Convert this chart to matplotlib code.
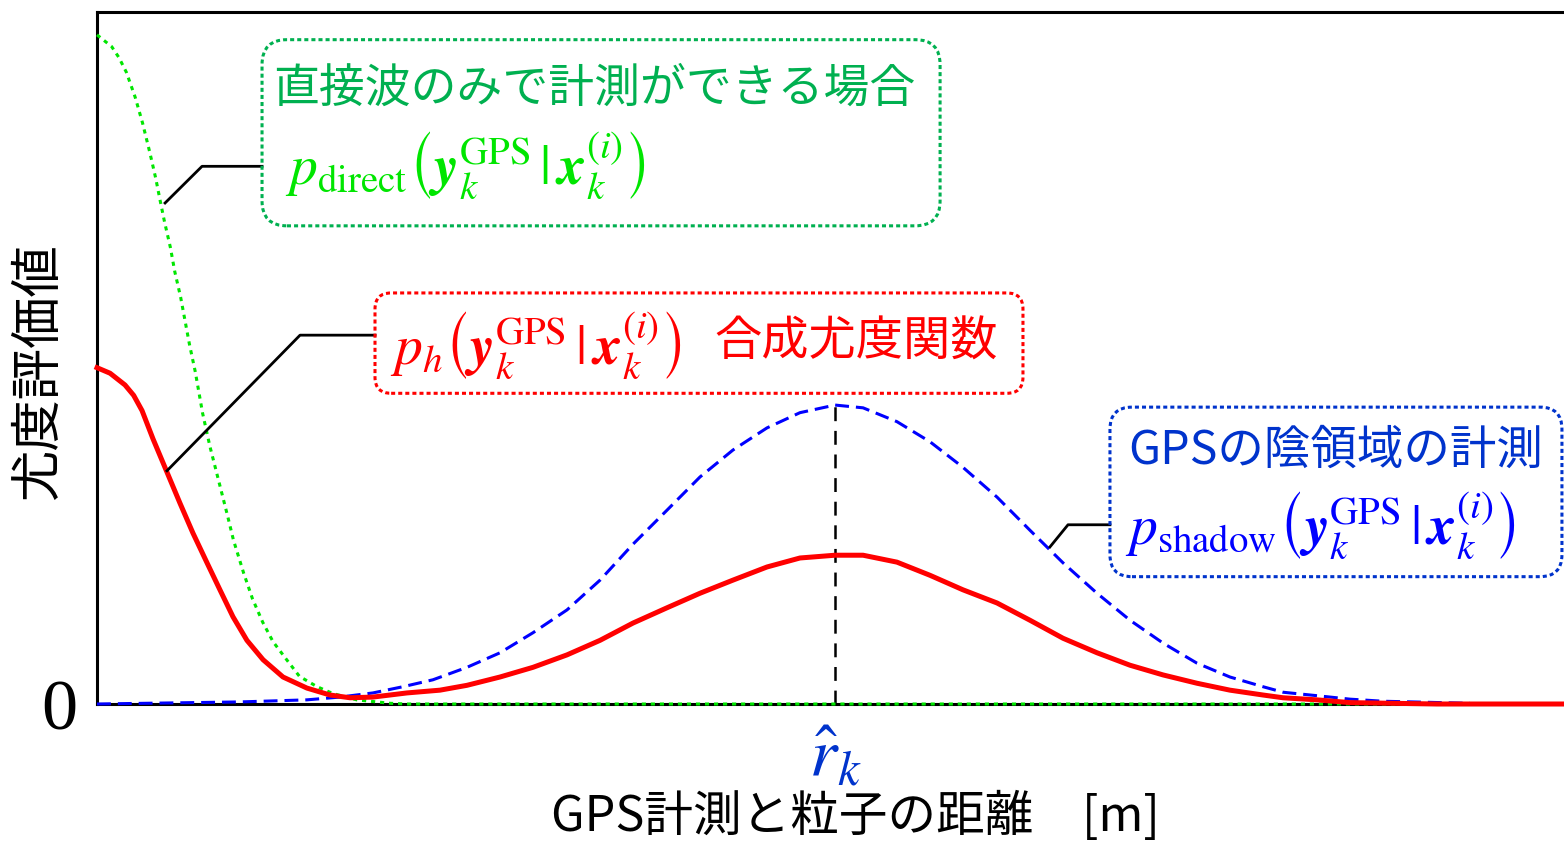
import numpy as np
import matplotlib.pyplot as plt
from matplotlib.patches import FancyBboxPatch

plt.rcParams['font.family'] = ['Noto Sans CJK JP', 'DejaVu Sans']
plt.rcParams['mathtext.fontset'] = 'stix'
plt.rcParams['lines.scale_dashes'] = False

# distance axis in arbitrary units (0..10), likelihood values normalised to the frame height
red_x = [0.0, 0.089, 0.191, 0.250, 0.307, 0.382, 0.477, 0.566, 0.654, 0.750, 0.838, 0.927,
         1.022, 1.132, 1.268, 1.431, 1.588, 1.725, 1.881, 2.113, 2.338, 2.522, 2.747, 2.972,
         3.204, 3.429, 3.654, 3.885, 4.110, 4.335, 4.567, 4.792, 5.031, 5.222, 5.453, 5.678,
         5.903, 6.135, 6.360, 6.585, 6.817, 7.042, 7.267, 7.498, 7.723, 7.948, 8.085, 8.316,
         8.541, 9.134, 10.0]
red_y = [0.486, 0.478, 0.461, 0.446, 0.424, 0.383, 0.335, 0.290, 0.247, 0.204, 0.165, 0.126,
         0.092, 0.064, 0.039, 0.023, 0.013, 0.009, 0.010, 0.016, 0.020, 0.027, 0.039, 0.053,
         0.071, 0.092, 0.117, 0.139, 0.160, 0.179, 0.198, 0.211, 0.215, 0.215, 0.205, 0.186,
         0.165, 0.146, 0.121, 0.095, 0.074, 0.056, 0.042, 0.030, 0.020, 0.013, 0.009, 0.006,
         0.002, 0.0, 0.0]

blue_x = [0.0, 0.975, 1.431, 1.656, 1.881, 2.086, 2.290, 2.522, 2.747, 2.972, 3.204, 3.429,
          3.654, 3.885, 4.110, 4.335, 4.567, 4.792, 5.031, 5.222, 5.453, 5.678, 5.903, 6.135,
          6.360, 6.585, 6.817, 7.042, 7.267, 7.498, 7.723, 7.948, 8.085, 8.316, 8.541, 8.766,
          9.359]
blue_y = [0.0, 0.003, 0.006, 0.010, 0.016, 0.025, 0.035, 0.053, 0.074, 0.103, 0.136, 0.179,
          0.231, 0.280, 0.328, 0.367, 0.399, 0.421, 0.432, 0.428, 0.408, 0.379, 0.342, 0.299,
          0.251, 0.204, 0.160, 0.121, 0.088, 0.059, 0.039, 0.025, 0.017, 0.012, 0.007, 0.004,
          0.001]

green_x = [0.0, 0.10, 0.15, 0.20, 0.26, 0.31, 0.36, 0.40, 0.43, 0.46, 0.50, 0.53, 0.57, 0.63,
           0.67, 0.72, 0.77, 0.83, 0.89, 0.93, 1.00, 1.06, 1.13, 1.20, 1.30, 1.38, 1.50, 1.61,
           1.77, 2.00, 2.11, 10.0]
green_y = [0.967, 0.950, 0.934, 0.913, 0.877, 0.840, 0.797, 0.760, 0.728, 0.697, 0.660, 0.625,
           0.588, 0.520, 0.480, 0.420, 0.372, 0.322, 0.272, 0.237, 0.189, 0.152, 0.118, 0.090,
           0.062, 0.040, 0.025, 0.015, 0.006, 0.001, 0.0, 0.0]

r_hat = 5.031

# callout leader lines
lead_green_x, lead_green_y = [0.464, 0.716, 1.125], [0.724, 0.777, 0.777]
lead_red_x, lead_red_y = [0.477, 1.384, 1.895], [0.337, 0.533, 0.533]
lead_blue_x, lead_blue_y = [6.496, 6.619, 6.905], [0.227, 0.259, 0.259]

txt_direct_jp = '直接波のみで計測ができる場合'
txt_direct = r'$p_{\mathrm{direct}}\left(\boldsymbol{y}_k^{\mathrm{GPS}}\,|\,\boldsymbol{x}_k^{(i)}\right)$'
txt_h = r'$p_h\left(\boldsymbol{y}_k^{\mathrm{GPS}}\,|\,\boldsymbol{x}_k^{(i)}\right)$'
txt_h_jp = '合成尤度関数'
txt_shadow_jp = 'GPSの陰領域の計測'
txt_shadow = r'$p_{\mathrm{shadow}}\left(\boldsymbol{y}_k^{\mathrm{GPS}}\,|\,\boldsymbol{x}_k^{(i)}\right)$'

BLUE_TXT = '#0033CC'
GREEN_TXT = '#00B050'
LIME = '#00E600'

fig = plt.figure(figsize=(15.64, 8.42), dpi=100)
ax = fig.add_axes([97 / 1564, 1 - 704 / 842, 1467 / 1564, 692 / 842])
ax.set_xlim(0, 10)
ax.set_ylim(0, 1)

ax.plot(blue_x, blue_y, color='#0000FF', lw=2.2, dashes=(10, 5), clip_on=False, zorder=3)
ax.plot(green_x, green_y, color=LIME, lw=2.2, dashes=(3, 3.5), clip_on=False, zorder=4)
ax.plot([r_hat, r_hat], [0, max(blue_y)], color='black', lw=1.8, dashes=(10, 7), zorder=2)
ax.plot(red_x, red_y, color='#FF0000', lw=3.6, clip_on=False, zorder=5)

for lx, ly in [(lead_green_x, lead_green_y), (lead_red_x, lead_red_y), (lead_blue_x, lead_blue_y)]:
    ax.plot(lx, ly, color='black', lw=2.0, zorder=6)

# dotted rounded boxes
asp = 146.7 / 692
boxes = [((1.125, 0.691), 4.622, 0.269, GREEN_TXT, 0.17),
         ((1.895, 0.449), 4.417, 0.145, '#FF0000', 0.11),
         ((6.905, 0.184), 3.081, 0.245, BLUE_TXT, 0.15)]
for (x0, y0), w, h, c, r in boxes:
    ax.add_patch(FancyBboxPatch((x0, y0), w, h,
                                boxstyle=f'round,pad=0,rounding_size={r}',
                                mutation_aspect=asp, fill=False, edgecolor=c,
                                lw=2.2, linestyle=(0, (2.9, 2.2)), clip_on=False, zorder=6))

ax.text(1.20, 0.890, txt_direct_jp, color=GREEN_TXT, fontsize=33, ha='left', va='center')
ax.text(1.28, 0.779, txt_direct, color=LIME, fontsize=40, ha='left', va='center')
ax.text(2.00, 0.519, txt_h, color='#FF0000', fontsize=40, ha='left', va='center')
ax.text(4.21, 0.522, txt_h_jp, color='#FF0000', fontsize=34, ha='left', va='center')
ax.text(7.03, 0.367, txt_shadow_jp, color=BLUE_TXT, fontsize=33.5, ha='left', va='center')
ax.text(7.01, 0.259, txt_shadow, color='#0000FF', fontsize=40, ha='left', va='center')

for s in ['left', 'top', 'bottom']:
    ax.spines[s].set_linewidth(2.2)
ax.spines['right'].set_visible(False)

ax.set_yticks([0])
ax.set_yticklabels(['0'], fontsize=52, family='Liberation Serif')
ax.set_xticks([r_hat])
ax.set_xticklabels([r'$\hat{r}_k$'], fontsize=50, color=BLUE_TXT)
ax.tick_params(length=0)
ax.tick_params(axis='y', pad=14)
ax.tick_params(axis='x', pad=12)

ax.set_xlabel('GPS計測と粒子の距離\u3000[m]', fontsize=35)
ax.xaxis.set_label_coords(0.517, -0.127)
ax.set_ylabel('尤度評価値', fontsize=37)
ax.yaxis.set_label_coords(-0.022, 0.48)

fig.savefig('out.png', dpi=100)
